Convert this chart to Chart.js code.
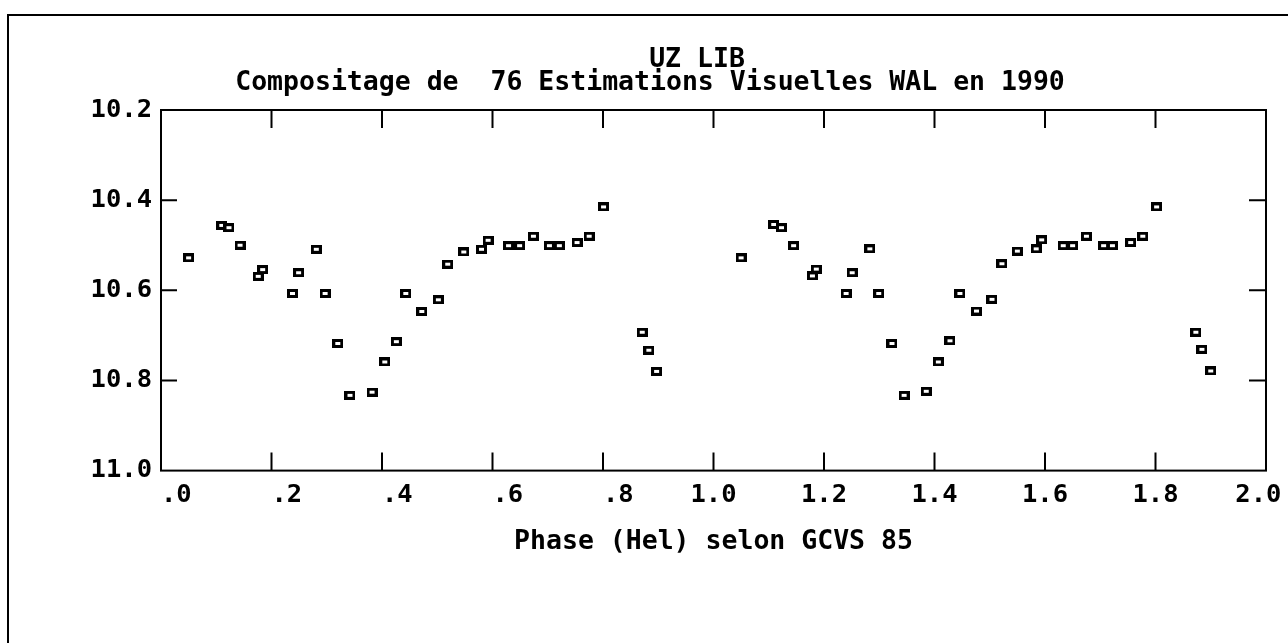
<!DOCTYPE html>
<html>
<head>
<meta charset="utf-8">
<script src="https://cdn.jsdelivr.net/npm/chart.js@4.4.1/dist/chart.umd.min.js"></script>
<style>
  body { margin: 0; background: #fff; }
</style>
</head>
<body>
<canvas id="grafico" width="1288" height="643"></canvas>
<script>
// Phases et magnitudes (premier cycle)
const phases1 = [0.050, 0.110, 0.123, 0.143, 0.176, 0.184, 0.238, 0.249, 0.281, 0.297, 0.320,
                 0.342, 0.382, 0.405, 0.426, 0.443, 0.472, 0.502, 0.519, 0.548, 0.580, 0.592,
                 0.629, 0.649, 0.674, 0.703, 0.721, 0.753, 0.775, 0.801, 0.871, 0.883, 0.897];
const mags1 = [10.528, 10.456, 10.461, 10.500, 10.569, 10.554, 10.607, 10.561, 10.509, 10.607, 10.718,
               10.833, 10.826, 10.759, 10.714, 10.607, 10.647, 10.621, 10.542, 10.515, 10.509, 10.489,
               10.501, 10.501, 10.480, 10.501, 10.501, 10.494, 10.480, 10.415, 10.693, 10.733, 10.780];

// deuxieme cycle (phase + 1)
const phases2 = [1.050, 1.109, 1.123, 1.145, 1.179, 1.186, 1.240, 1.251, 1.283, 1.299, 1.323,
                 1.345, 1.385, 1.407, 1.428, 1.446, 1.476, 1.504, 1.522, 1.550, 1.584, 1.594,
                 1.633, 1.650, 1.675, 1.706, 1.722, 1.755, 1.777, 1.802, 1.873, 1.884, 1.900];
const mags2 = [10.528, 10.454, 10.461, 10.501, 10.568, 10.553, 10.607, 10.561, 10.508, 10.607, 10.718,
               10.833, 10.824, 10.759, 10.712, 10.607, 10.646, 10.620, 10.541, 10.513, 10.508, 10.488,
               10.501, 10.501, 10.480, 10.501, 10.501, 10.494, 10.480, 10.415, 10.693, 10.731, 10.779];

const xTickValues = [0, 0.2, 0.4, 0.6, 0.8, 1.0, 1.2, 1.4, 1.6, 1.8, 2.0];
const xTickLabels = ['  .0', '  .2', '  .4', '  .6', '  .8', '1.0', '1.2', '1.4', '1.6', '1.8', '2.0 '];
const yTickValues = [10.2, 10.4, 10.6, 10.8, 11.0];
const yTickLabels = ['10.2', '10.4', '10.6', '10.8', '11.0'];

const titre1 = 'UZ LIB';
const titre2 = 'Compositage de  76 Estimations Visuelles WAL en 1990';
const titreX = 'Phase (Hel) selon GCVS 85';

const police = '"DejaVu Sans Mono", "Liberation Mono", monospace';

// petit carre creux comme marqueur
const marqueur = document.createElement('canvas');
marqueur.width = 11;
marqueur.height = 9;
const m = marqueur.getContext('2d');
m.fillStyle = '#000';
m.fillRect(0, 0, 11, 9);
m.fillStyle = '#fff';
m.fillRect(3, 3, 5, 3);

const points = phases1.map((p, i) => ({ x: p, y: mags1[i] }))
    .concat(phases2.map((p, i) => ({ x: p, y: mags2[i] })));

// cadre, graduations vers l'interieur et titre
const cadre = {
    id: 'cadre',
    beforeDraw(chart) {
        const c = chart.ctx;
        c.save();
        c.fillStyle = '#fff';
        c.fillRect(0, 0, chart.width, chart.height);
        c.strokeStyle = '#000';
        c.lineWidth = 2;
        c.beginPath();
        c.moveTo(8, chart.height);
        c.lineTo(8, 15);
        c.lineTo(chart.width, 15);
        c.stroke();
        c.restore();
    },
    afterDraw(chart) {
        const c = chart.ctx;
        const a = chart.chartArea;
        const sx = chart.scales.x;
        const sy = chart.scales.y;
        c.save();
        c.strokeStyle = '#000';
        c.lineWidth = 2;
        c.strokeRect(a.left, a.top, a.right - a.left, a.bottom - a.top);
        c.beginPath();
        xTickValues.slice(1, -1).forEach(v => {
            const px = sx.getPixelForValue(v);
            c.moveTo(px, a.top);
            c.lineTo(px, a.top + 18);
            c.moveTo(px, a.bottom);
            c.lineTo(px, a.bottom - 18);
        });
        yTickValues.slice(1, -1).forEach(v => {
            const py = sy.getPixelForValue(v);
            c.moveTo(a.left, py);
            c.lineTo(a.left + 16, py);
            c.moveTo(a.right, py);
            c.lineTo(a.right - 17, py);
        });
        c.stroke();

        c.fillStyle = '#000';
        c.font = 'bold 26.5px ' + police;
        c.textAlign = 'center';
        c.textBaseline = 'alphabetic';
        c.fillText(titre1, 697, 67);
        c.fillText(titre2, 650, 90);
        c.restore();
    }
};

const ctx = document.getElementById('grafico').getContext('2d');

let grafico = new Chart(ctx, {
    type: 'scatter',
    data: {
        datasets: [{
            data: points,
            pointStyle: marqueur,
            pointRadius: 6,
            showLine: false
        }]
    },
    options: {
        responsive: false,
        animation: false,
        layout: {
            padding: { top: 110, right: 22, bottom: 85, left: 0 }
        },
        plugins: {
            legend: { display: false },
            tooltip: { enabled: false }
        },
        scales: {
            x: {
                type: 'linear',
                min: 0,
                max: 2,
                afterBuildTicks: s => { s.ticks = xTickValues.map(v => ({ value: v })); },
                afterFit: s => { s.paddingLeft = 0; s.paddingRight = 0; },
                grid: { display: false },
                border: { display: false },
                ticks: {
                    color: '#000',
                    padding: 1,
                    maxRotation: 0,
                    autoSkip: false,
                    font: { family: police, size: 25.5, weight: 'bold' },
                    callback: (v, i) => xTickLabels[i]
                },
                title: {
                    display: true,
                    text: titreX,
                    color: '#000',
                    padding: { top: 15, bottom: 0 },
                    font: { family: police, size: 26.5, weight: 'bold' }
                }
            },
            y: {
                type: 'linear',
                min: 10.2,
                max: 11.0,
                reverse: true,
                afterBuildTicks: s => { s.ticks = yTickValues.map(v => ({ value: v })); },
                afterFit: s => { s.width = 161; },
                grid: { display: false },
                border: { display: false },
                ticks: {
                    color: '#000',
                    padding: 1,
                    font: { family: police, size: 25.5, weight: 'bold' },
                    callback: (v, i) => yTickLabels[i]
                }
            }
        }
    },
    plugins: [cadre]
});
</script>
</body>
</html>
